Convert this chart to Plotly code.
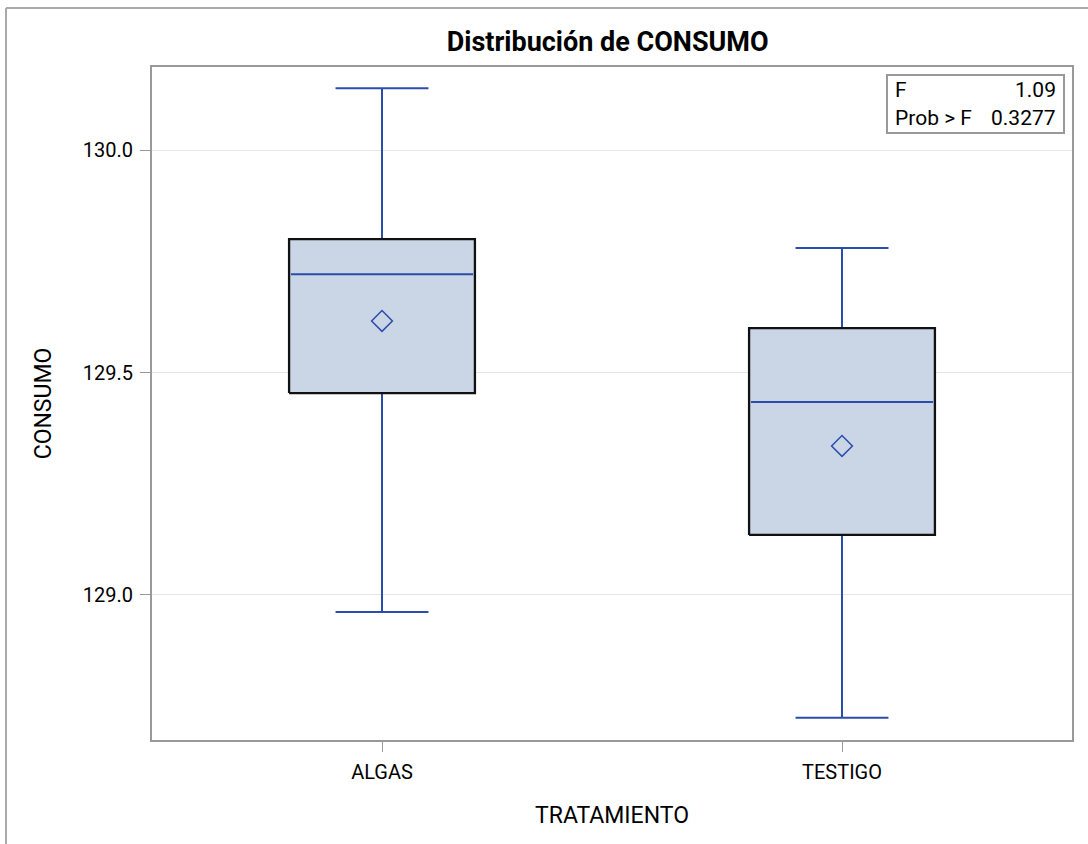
import plotly.graph_objects as go

categories = ["ALGAS", "TESTIGO"]
upper_whisker = [130.139, 129.780]
q3 = [129.800, 129.600]
median = [129.721, 129.434]
mean = [129.616, 129.335]
q1 = [129.454, 129.135]
lower_whisker = [128.962, 128.724]
stat_labels = ["F", "Prob > F"]
stat_values = ["1.09", "0.3277"]

BLUE = "#2A4DAA"
FILL = "#CAD5E5"
BOX_HALF = 0.202
CAP_HALF = 0.101
FONT = "Roboto, Arial, sans-serif"

fig = go.Figure()
for i, cat in enumerate(categories):
    # whiskers
    fig.add_trace(go.Scatter(x=[i, i], y=[q3[i], upper_whisker[i]], mode="lines",
                             line=dict(color=BLUE, width=2), showlegend=False, hoverinfo="skip"))
    fig.add_trace(go.Scatter(x=[i, i], y=[q1[i], lower_whisker[i]], mode="lines",
                             line=dict(color=BLUE, width=2), showlegend=False, hoverinfo="skip"))
    fig.add_trace(go.Scatter(x=[i - CAP_HALF, i + CAP_HALF], y=[upper_whisker[i]] * 2, mode="lines",
                             line=dict(color=BLUE, width=2), showlegend=False, hoverinfo="skip"))
    fig.add_trace(go.Scatter(x=[i - CAP_HALF, i + CAP_HALF], y=[lower_whisker[i]] * 2, mode="lines",
                             line=dict(color=BLUE, width=2), showlegend=False, hoverinfo="skip"))
    # box
    fig.add_trace(go.Scatter(x=[i - BOX_HALF, i + BOX_HALF, i + BOX_HALF, i - BOX_HALF, i - BOX_HALF],
                             y=[q1[i], q1[i], q3[i], q3[i], q1[i]], mode="lines", fill="toself",
                             fillcolor=FILL, line=dict(color="#111111", width=2.3),
                             showlegend=False, hoverinfo="skip"))
    # median
    fig.add_trace(go.Scatter(x=[i - BOX_HALF + 0.004, i + BOX_HALF - 0.004], y=[median[i]] * 2, mode="lines",
                             line=dict(color=BLUE, width=2), showlegend=False, hoverinfo="skip"))
    # mean
    fig.add_trace(go.Scatter(x=[i], y=[mean[i]], mode="markers",
                             marker=dict(symbol="diamond-open", size=16, color=BLUE, line=dict(width=1.5, color=BLUE)),
                             showlegend=False, hoverinfo="skip"))

fig.update_layout(
    width=1088, height=844,
    margin=dict(l=152, r=16, t=67, b=104),
    paper_bgcolor="white", plot_bgcolor="white",
    font=dict(family=FONT, color="black", size=20),
    title=dict(text="<b>Distribución de CONSUMO</b>", x=0.5585, xanchor="center",
               y=1 - 42 / 844, yanchor="middle", font=dict(size=27, family=FONT)),
    xaxis=dict(range=[-0.5, 1.5], tickvals=list(range(len(categories))), ticktext=categories,
               showgrid=False, zeroline=False, showline=True, linecolor="#999999", linewidth=2,
               mirror=True, ticks="outside", ticklen=10, tickcolor="#999999", tickwidth=1,
               ticklabelstandoff=3,
               title=dict(text="TRATAMIENTO", font=dict(size=23), standoff=24),
               tickfont=dict(size=20)),
    yaxis=dict(range=[128.674, 130.187], tickvals=[129.0, 129.5, 130.0],
               ticktext=["129.0", "129.5", "130.0"],
               showgrid=True, gridcolor="#E6E6E6", gridwidth=1, zeroline=False,
               showline=True, linecolor="#999999", linewidth=2, mirror=True,
               ticks="outside", ticklen=10, tickcolor="#999999", tickwidth=1,
               ticklabelstandoff=3,
               title=dict(text="CONSUMO", font=dict(size=23), standoff=25),
               tickfont=dict(size=20)),
)

# inset statistics box
fig.add_shape(type="rect", xref="paper", yref="paper",
              x0=(887 - 152) / 920, x1=(1064 - 152) / 920,
              y0=(740 - 133) / 673, y1=(740 - 75) / 673,
              line=dict(color="#999999", width=2), fillcolor="white", layer="above")
for k, (lab, val) in enumerate(zip(stat_labels, stat_values)):
    ypix = 90 + k * 28
    fig.add_annotation(xref="paper", yref="paper", x=(893 - 152) / 920, y=(740 - ypix) / 673,
                       text=lab, showarrow=False, xanchor="left", yanchor="middle",
                       font=dict(size=21, family=FONT))
    fig.add_annotation(xref="paper", yref="paper", x=(1058 - 152) / 920, y=(740 - ypix) / 673,
                       text=val, showarrow=False, xanchor="right", yanchor="middle",
                       font=dict(size=21, family=FONT))

# outer frame (top and left edges)
fig.add_shape(type="line", xref="paper", yref="paper", x0=(6 - 152) / 920, x1=(1088 - 152) / 920,
              y0=(740 - 8) / 673, y1=(740 - 8) / 673, line=dict(color="#AAAAAA", width=2))
fig.add_shape(type="line", xref="paper", yref="paper", x0=(6 - 152) / 920, x1=(6 - 152) / 920,
              y0=(740 - 8) / 673, y1=(740 - 844) / 673, line=dict(color="#AAAAAA", width=2))

fig.write_html("out.html", config={"displayModeBar": False},
               post_script="document.body.style.margin='0';document.body.style.overflow='hidden';")
